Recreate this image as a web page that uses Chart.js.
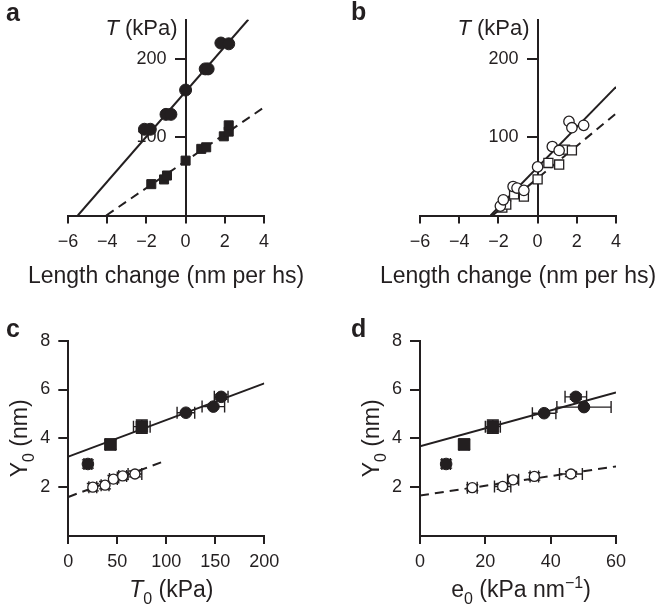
<!DOCTYPE html>
<html>
<head>
<meta charset="utf-8">
<script src="https://cdn.jsdelivr.net/npm/chart.js@4.4.1/dist/chart.umd.min.js"></script>
<style>
  body { margin: 0; background: #fff; }
  #wrap { position: relative; width: 660px; height: 607px; }
  canvas { position: absolute; }
</style>
</head>
<body>
<div id="wrap">
  <canvas id="ca" width="330" height="300" style="left:0;top:0"></canvas>
  <canvas id="cb" width="330" height="300" style="left:330px;top:0"></canvas>
  <canvas id="cc" width="330" height="307" style="left:0;top:300px"></canvas>
  <canvas id="cd" width="330" height="307" style="left:330px;top:300px"></canvas>
</div>
<script>
// ---- panel a: T vs length change (filled symbols)
var aTicksX = [-6, -4, -2, 0, 2, 4];
var aTicksY = [100, 200];
var aCircX = [-2.1, -1.8, -1.0, -0.75, 0, 1.0, 1.15, 1.8, 2.2];
var aCircY = [110, 110, 129, 129, 160, 187, 187, 220, 219];
var aSqX = [-1.75, -1.1, -0.95, 0, 0.8, 1.05, 1.95, 2.2, 2.2];
var aSqY = [40, 46, 51, 70, 85, 87, 101, 107, 115];
var aFitX = [-5.5, 3.2], aFitY = [0, 250];
var aDashX = [-4.05, 4], aDashY = [0, 138];

// ---- panel b: open symbols
var bCircX = [-1.9, -1.75, -1.25, -1.05, -0.7, 0, 0.75, 1.1, 1.6, 1.75, 2.35];
var bCircY = [12, 20, 37, 35, 32, 62, 88, 83, 120, 112, 115];
var bSqX = [-1.8, -1.6, -1.2, -0.7, 0, 0.55, 1.1, 1.4, 1.75];
var bSqY = [10, 14, 27, 24, 46, 67, 65, 84, 83];
var bFitX = [-2.4, 4], bFitY = [0, 164];
var bDashX = [-2.3, 4], bDashY = [0, 130];

// ---- panel c: Y0 vs T0
var cTicksX = [0, 50, 100, 150, 200];
var yoTicks = [2, 4, 6, 8];
var cCircX = [20, 120, 148, 156], cCircY = [2.95, 5.05, 5.3, 5.7];
var cCircXerr = [4, 9, 11.5, 7], cCircYerr = [0.17, 0.05, 0.05, 0.1];
var cSqX = [43, 75], cSqY = [3.75, 4.48];
var cSqXerr = [5, 8.5], cSqYerr = [0.2, 0.27];
var cOpenX = [25, 37.5, 46, 55.5, 68], cOpenY = [2.0, 2.08, 2.33, 2.46, 2.54];
var cOpenXerr = [4, 4, 4, 4, 7], cOpenYerr = [0.15, 0.15, 0.15, 0.15, 0.12];
var cFitX = [0, 200], cFitY = [3.25, 6.25];
var cDashX = [0, 97], cDashY = [1.6, 3.05];

// ---- panel d: Y0 vs e0
var dTicksX = [0, 20, 40, 60];
var dCircX = [8, 38, 47.7, 50.2], dCircY = [2.95, 5.03, 5.7, 5.28];
var dCircXerr = [1.3, 3.6, 3.3, 8.3], dCircYerr = [0.17, 0.05, 0.1, 0.05];
var dSqX = [13.5, 22.3], dSqY = [3.75, 4.48];
var dSqXerr = [1.5, 2.3], dSqYerr = [0.2, 0.27];
var dOpenX = [16, 25.3, 28.5, 35, 46.2], dOpenY = [1.98, 2.03, 2.3, 2.44, 2.54];
var dOpenXerr = [1.5, 2.5, 1.7, 1.3, 3.5], dOpenYerr = [0.12, 0.12, 0.15, 0.15, 0.1];
var dFitX = [0, 60], dFitY = [3.68, 5.88];
var dDashX = [0, 60], dDashY = [1.66, 2.85];

var INK = '#231f20';
var FONT = "'Liberation Sans', Arial, Helvetica, sans-serif";
Chart.defaults.font.family = FONT;
Chart.defaults.color = INK;

function pts(xs, ys) {
    return xs.map(function (x, i) { return { x: x, y: ys[i] }; });
}

function minus(v) { return v < 0 ? '\u2212' + Math.abs(v) : '' + v; }

function fontFor(kind, size) {
    if (kind === 'i') return 'italic ' + size + 'px ' + FONT;
    if (kind === 'sub' || kind === 'sup') return Math.round(size * 0.68) + 'px ' + FONT;
    return size + 'px ' + FONT;
}

function drawRuns(ctx, runs, x, y, size, align) {
    var w = 0;
    runs.forEach(function (r) { ctx.font = fontFor(r[1], size); w += ctx.measureText(r[0]).width; });
    var cx = align === 'center' ? x - w / 2 : (align === 'right' ? x - w : x);
    ctx.textAlign = 'left';
    ctx.textBaseline = 'alphabetic';
    runs.forEach(function (r) {
        ctx.font = fontFor(r[1], size);
        var dy = r[1] === 'sub' ? size * 0.32 : (r[1] === 'sup' ? -size * 0.38 : 0);
        ctx.fillText(r[0], cx, y + dy);
        cx += ctx.measureText(r[0]).width;
    });
}

// axis titles, panel letter, and labels of the y axis that sits at x = 0
function panelText(spec) {
    return {
        id: 'panelText',
        beforeDatasetsDraw: function (chart) {
            if (spec.yMode !== 'top') return;
            var ctx = chart.ctx;
            var ax = chart.scales.x.getPixelForValue(0);
            var ys = chart.scales.y;
            ctx.save();
            ctx.fillStyle = INK;
            ctx.font = '18px ' + FONT;
            ctx.textAlign = 'right';
            ctx.textBaseline = 'middle';
            ys.ticks.forEach(function (t) {
                ctx.fillText(minus(t.value), ax - 10 - 9, ys.getPixelForValue(t.value));
            });
            ctx.restore();
        },
        afterDraw: function (chart) {
            var ctx = chart.ctx, ca = chart.chartArea;
            ctx.save();
            ctx.fillStyle = INK;
            ctx.font = 'bold 25px ' + FONT;
            ctx.textAlign = 'left';
            ctx.textBaseline = 'alphabetic';
            ctx.fillText(spec.letter, spec.lx, spec.ly);
            drawRuns(ctx, spec.xTitle, (ca.left + ca.right) / 2 + (spec.xOff || 0), spec.xBase, 23, 'center');
            if (spec.yMode === 'top') {
                var ax = chart.scales.x.getPixelForValue(0);
                drawRuns(ctx, spec.yTitle, ax - 8, spec.yBase, 22, 'right');
            } else {
                ctx.translate(spec.yBase, (ca.top + ca.bottom) / 2);
                ctx.rotate(-Math.PI / 2);
                drawRuns(ctx, spec.yTitle, 0, 0, 23, 'center');
            }
            ctx.restore();
        }
    };
}

// error bars with caps, drawn under the markers
var errorBars = {
    id: 'errorBars',
    beforeDatasetsDraw: function (chart) {
        var ctx = chart.ctx, xs = chart.scales.x, ys = chart.scales.y, cap = 6;
        ctx.save();
        ctx.strokeStyle = INK;
        ctx.lineWidth = 1.4;
        chart.data.datasets.forEach(function (ds) {
            if (!ds.xerr) return;
            ds.data.forEach(function (p, i) {
                var px = xs.getPixelForValue(p.x), py = ys.getPixelForValue(p.y);
                var x1 = xs.getPixelForValue(p.x - ds.xerr[i]), x2 = xs.getPixelForValue(p.x + ds.xerr[i]);
                var y1 = ys.getPixelForValue(p.y - ds.yerr[i]), y2 = ys.getPixelForValue(p.y + ds.yerr[i]);
                ctx.beginPath();
                ctx.moveTo(x1, py); ctx.lineTo(x2, py);
                ctx.moveTo(x1, py - cap); ctx.lineTo(x1, py + cap);
                ctx.moveTo(x2, py - cap); ctx.lineTo(x2, py + cap);
                ctx.moveTo(px, y1); ctx.lineTo(px, y2);
                ctx.moveTo(px - cap, y1); ctx.lineTo(px + cap, y1);
                ctx.moveTo(px - cap, y2); ctx.lineTo(px + cap, y2);
                ctx.stroke();
            });
        });
        ctx.restore();
    }
};

function axis(min, max, ticks, tickLen, pad, fit) {
    return {
        type: 'linear',
        min: min,
        max: max,
        afterBuildTicks: function (s) { s.ticks = ticks.map(function (v) { return { value: v }; }); },
        afterFit: fit,
        grid: { drawOnChartArea: false, drawTicks: true, tickLength: tickLen, color: INK, lineWidth: 2 },
        border: { display: true, color: INK, width: 2 },
        ticks: { color: INK, font: { size: 18, family: FONT }, padding: pad, autoSkip: false, maxRotation: 0, callback: minus }
    };
}

function marks(data, style, r, filled, extra) {
    var ds = {
        data: data,
        pointStyle: style,
        pointRadius: r,
        pointHoverRadius: r,
        pointBackgroundColor: filled ? INK : '#ffffff',
        pointBorderColor: INK,
        pointBorderWidth: filled ? 1 : 1.3,
        showLine: false,
        clip: false
    };
    return Object.assign(ds, extra || {});
}

function fitLine(data, dashed) {
    return {
        data: data,
        showLine: true,
        borderColor: INK,
        borderWidth: 2,
        borderDash: dashed ? [9, 6] : [],
        pointRadius: 0,
        pointHoverRadius: 0,
        fill: false
    };
}

function baseOptions(padding, scales) {
    return {
        responsive: false,
        animation: false,
        devicePixelRatio: 1,
        layout: { padding: padding, autoPadding: false },
        plugins: { legend: { display: false }, tooltip: { enabled: false } },
        events: [],
        scales: scales
    };
}

function centreY(ticks) {
    var y = axis(0, 250, ticks, 10, 9);
    y.position = { x: 0 };
    y.ticks.display = false;
    return y;
}

// panel a
new Chart(document.getElementById('ca'), {
    type: 'scatter',
    data: {
        datasets: [
            marks(pts(aCircX, aCircY), 'circle', 6, true),
            marks(pts(aSqX, aSqY), 'rect', 6.4, true),
            fitLine(pts(aFitX, aFitY), false),
            fitLine(pts(aDashX, aDashY), true)
        ]
    },
    options: baseOptions({ left: 68, right: 66, top: 19.5, bottom: 0 }, {
        x: axis(-6, 4, aTicksX, 8, 8, function (s) { s.height = 84.5; }),
        y: centreY(aTicksY)
    }),
    plugins: [errorBars, panelText({
        letter: 'a', lx: 6, ly: 21,
        xTitle: [['Length change (nm per hs)', '']], xBase: 283,
        yTitle: [['T', 'i'], [' (kPa)', '']], yMode: 'top', yBase: 35
    })]
});

// panel b
new Chart(document.getElementById('cb'), {
    type: 'scatter',
    data: {
        datasets: [
            marks(pts(bCircX, bCircY), 'circle', 5.2, false),
            marks(pts(bSqX, bSqY), 'rect', 6.4, false),
            fitLine(pts(bFitX, bFitY), false),
            fitLine(pts(bDashX, bDashY), true)
        ]
    },
    options: baseOptions({ left: 90, right: 44, top: 19.5, bottom: 0 }, {
        x: axis(-6, 4, aTicksX, 8, 8, function (s) { s.height = 84.5; }),
        y: centreY(aTicksY)
    }),
    plugins: [errorBars, panelText({
        letter: 'b', lx: 21, ly: 20,
        xTitle: [['Length change (nm per hs)', '']], xBase: 283,
        yTitle: [['T', 'i'], [' (kPa)', '']], yMode: 'top', yBase: 35
    })]
});

// panel c
new Chart(document.getElementById('cc'), {
    type: 'scatter',
    data: {
        datasets: [
            marks(pts(cCircX, cCircY), 'circle', 5.8, true, { xerr: cCircXerr, yerr: cCircYerr }),
            marks(pts(cSqX, cSqY), 'rect', 8.2, true, { xerr: cSqXerr, yerr: cSqYerr }),
            marks(pts(cOpenX, cOpenY), 'circle', 5, false, { xerr: cOpenXerr, yerr: cOpenYerr }),
            fitLine(pts(cFitX, cFitY), false),
            fitLine(pts(cDashX, cDashY), true)
        ]
    },
    options: baseOptions({ left: 0, right: 65.7, top: 40.7, bottom: 0 }, {
        x: axis(0, 200, cTicksX, 8, 7, function (s) { s.height = 71; }),
        y: axis(0, 8, yoTicks, 10, 8, function (s) { s.width = 68.3; })
    }),
    plugins: [errorBars, panelText({
        letter: 'c', lx: 6, ly: 37,
        xTitle: [['T', 'i'], ['0', 'sub'], [' (kPa)', '']], xBase: 297, xOff: 5,
        yTitle: [['Y', ''], ['0', 'sub'], [' (nm)', '']], yMode: 'rot', yBase: 27
    })]
});

// panel d
new Chart(document.getElementById('cd'), {
    type: 'scatter',
    data: {
        datasets: [
            marks(pts(dCircX, dCircY), 'circle', 5.8, true, { xerr: dCircXerr, yerr: dCircYerr }),
            marks(pts(dSqX, dSqY), 'rect', 8.2, true, { xerr: dSqXerr, yerr: dSqYerr }),
            marks(pts(dOpenX, dOpenY), 'circle', 5, false, { xerr: dOpenXerr, yerr: dOpenYerr }),
            fitLine(pts(dFitX, dFitY), false),
            fitLine(pts(dDashX, dDashY), true)
        ]
    },
    options: baseOptions({ left: 0, right: 44, top: 40.7, bottom: 0 }, {
        x: axis(0, 60, dTicksX, 8, 7, function (s) { s.height = 71; }),
        y: axis(0, 8, yoTicks, 10, 8, function (s) { s.width = 90; })
    }),
    plugins: [errorBars, panelText({
        letter: 'd', lx: 21, ly: 37,
        xTitle: [['e', ''], ['0', 'sub'], [' (kPa nm', ''], ['\u22121', 'sup'], [')', '']], xBase: 297, xOff: 3,
        yTitle: [['Y', ''], ['0', 'sub'], [' (nm)', '']], yMode: 'rot', yBase: 49
    })]
});
</script>
</body>
</html>
